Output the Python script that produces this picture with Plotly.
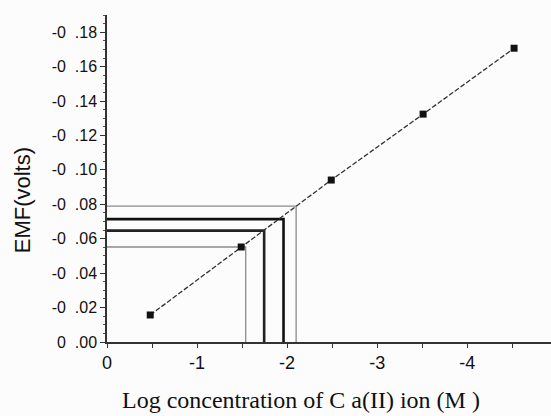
import plotly.graph_objects as go

# Calibration data
log_conc = [-0.48, -1.49, -2.49, -3.51, -4.52]
emf = [-0.0157, -0.0552, -0.0941, -0.1324, -0.1707]

sample_emf = [-0.0790, -0.0714, -0.0647, -0.0552]
sample_logc = [-2.10, -1.96, -1.745, -1.54]
sample_width = [1.3, 2.6, 2.6, 1.3]
sample_color = ["#8a8a8a", "#111111", "#222222", "#8a8a8a"]

y_ticks = [0.0, -0.02, -0.04, -0.06, -0.08, -0.10, -0.12, -0.14, -0.16, -0.18]
y_ticktext = ["0\u00a0\u00a0.00", "-0\u00a0\u00a0.02", "-0\u00a0\u00a0.04", "-0\u00a0\u00a0.06",
              "-0\u00a0\u00a0.08", "-0\u00a0\u00a0.10", "-0\u00a0\u00a0.12", "-0\u00a0\u00a0.14",
              "-0\u00a0\u00a0.16", "-0\u00a0\u00a0.18"]
x_ticks = [0, -1, -2, -3, -4]
x_ticktext = ["0", "-1", "-2", "-3", "-4"]

fig = go.Figure()

for e, c, w, col in zip(sample_emf, sample_logc, sample_width, sample_color):
    fig.add_trace(go.Scatter(
        x=[0, c, c], y=[e, e, 0], mode="lines",
        line=dict(color=col, width=w), showlegend=False, hoverinfo="skip"))

fig.add_trace(go.Scatter(
    x=log_conc, y=emf, mode="lines+markers",
    line=dict(color="#333333", width=1.3, dash="5px,2px"),
    marker=dict(symbol="square", size=7, color="#111111"),
    showlegend=False))

fig.update_layout(
    width=551, height=416,
    margin=dict(l=107, r=0, t=15, b=74),
    paper_bgcolor="#fcfcfc", plot_bgcolor="#fcfcfc",
    font=dict(family="Liberation Sans, Arial, sans-serif", color="#111111"),
    xaxis=dict(
        range=[0, -4.93], showgrid=False, zeroline=False,
        showline=True, linecolor="#333333", linewidth=1.5,
        tickvals=x_ticks, ticktext=x_ticktext, ticks="outside", ticklen=4,
        tickcolor="#333333", tickfont=dict(size=18),
        minor=dict(dtick=0.5, tick0=0, ticks="outside", ticklen=4, tickcolor="#333333"),
    ),
    yaxis=dict(
        range=[0, -0.19], showgrid=False, zeroline=False,
        showline=True, linecolor="#333333", linewidth=1.5,
        tickvals=y_ticks, ticktext=y_ticktext, ticks="outside", ticklen=5,
        tickcolor="#333333", tickfont=dict(size=16),
        minor=dict(dtick=0.005, tick0=0, ticks="outside", ticklen=2, tickcolor="#555555"),
    ),
    annotations=[
        dict(text="EMF(volts)", xref="paper", yref="paper", x=-0.191, y=0.434,
             textangle=-90, showarrow=False, xanchor="center", yanchor="middle",
             font=dict(size=22, family="Liberation Sans, Arial, sans-serif")),
        dict(text="Log concentration of C a(II) ion (M )", xref="paper", yref="paper",
             x=0.437, y=-0.177, showarrow=False, xanchor="center", yanchor="middle",
             font=dict(size=24, family="Liberation Serif, Times New Roman, serif")),
    ],
)

fig.write_html("out.html", config={"displayModeBar": False},
               post_script="document.body.style.margin='0';document.body.style.padding='0';")
